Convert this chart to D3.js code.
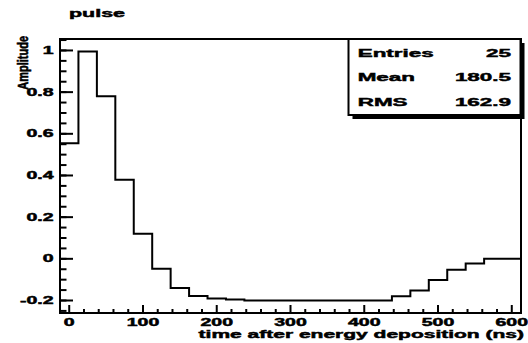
<!DOCTYPE html>
<html>
<head>
<meta charset="utf-8">
<script src="https://cdn.jsdelivr.net/npm/d3@7"></script>
<style>
  body { margin: 0; background: #fff; }
  svg { display: block; }
  text { font-family: "Liberation Sans", Arial, Helvetica, sans-serif; font-weight: bold; fill: #000;
         stroke: #000; stroke-width: 0.45px; }
</style>
</head>
<body>
<svg id="chart" width="528" height="343"></svg>
<script>
// Histogram "pulse": 25 bins of width 25 ns, centred on 0, 25, ..., 600
const binCenters = [0, 25, 50, 75, 100, 125, 150, 175, 200, 225, 250, 275, 300,
                    325, 350, 375, 400, 425, 450, 475, 500, 525, 550, 575, 600];
const amplitude = [0.555, 0.995, 0.78, 0.38, 0.12, -0.048, -0.14, -0.178, -0.19, -0.195,
                   -0.2, -0.2, -0.2, -0.2, -0.2, -0.2, -0.2, -0.2,
                   -0.18, -0.152, -0.102, -0.052, -0.022, 0, 0];
const binWidth = 25;

const xMajorTicks = [0, 100, 200, 300, 400, 500, 600];
const xMinorTicks = d3.range(0, 601, 20);
const yMajorTicks = [-0.2, 0, 0.2, 0.4, 0.6, 0.8, 1];
const yTickLabels = ["-0.2", "0", "0.2", "0.4", "0.6", "0.8", "1"];
const yMinorTicks = d3.range(-0.25, 1.051, 0.05);

const titleText = "pulse";
const xTitle = "time after energy deposition (ns)";
const yTitle = "Amplitude";
const statsLabels = ["Entries", "Mean", "RMS"];
const statsValues = ["25", "180.5", "162.9"];

// Frame geometry
const frame = { left: 60, right: 521, top: 39, bottom: 313 };
const SX = 1.95; // horizontal text stretch

const svg = d3.select("#chart");

const x = d3.scaleLinear()
  .domain([binCenters[0] - binWidth / 2, binCenters[binCenters.length - 1] + binWidth / 2])
  .range([frame.left, frame.right]);
const y = d3.scaleLinear()
  .domain([-0.26, 1.055])
  .range([frame.bottom, frame.top]);

function label(str, tx, ty, anchor, size, sx) {
  return svg.append("text")
    .attr("transform", `translate(${tx},${ty}) scale(${sx},1)`)
    .attr("text-anchor", anchor)
    .style("font-size", size + "px")
    .text(str);
}

// Histogram outline (steps)
const pts = [];
binCenters.forEach((c, i) => {
  pts.push([c - binWidth / 2, amplitude[i]]);
  pts.push([c + binWidth / 2, amplitude[i]]);
});
svg.append("path")
  .datum(pts)
  .attr("fill", "none")
  .attr("stroke", "#000")
  .attr("stroke-width", 2)
  .attr("d", d3.line().x(d => x(d[0])).y(d => y(d[1])));

// Ticks (inward)
const ticks = svg.append("g").attr("stroke", "#000").attr("stroke-width", 2);
xMinorTicks.filter(v => xMajorTicks.indexOf(v) < 0).forEach(v => {
  ticks.append("line").attr("x1", x(v)).attr("x2", x(v))
    .attr("y1", frame.bottom).attr("y2", frame.bottom - 4);
});
xMajorTicks.forEach(v => {
  ticks.append("line").attr("x1", x(v)).attr("x2", x(v))
    .attr("y1", frame.bottom).attr("y2", frame.bottom - 8);
});
yMinorTicks.forEach(v => {
  const yy = y(v);
  if (yy < frame.top + 1 || yy > frame.bottom - 1) return;
  ticks.append("line").attr("x1", frame.left).attr("x2", frame.left + 6.5)
    .attr("y1", yy).attr("y2", yy);
});
yMajorTicks.forEach(v => {
  ticks.append("line").attr("x1", frame.left).attr("x2", frame.left + 13)
    .attr("y1", y(v)).attr("y2", y(v));
});

// Frame
svg.append("rect")
  .attr("x", frame.left).attr("y", frame.top)
  .attr("width", frame.right - frame.left).attr("height", frame.bottom - frame.top)
  .attr("fill", "none").attr("stroke", "#000").attr("stroke-width", 2);

// Tick labels
xMajorTicks.forEach(v => label(String(v), x(v), 325.5, "middle", 10, SX));
yMajorTicks.forEach((v, i) => label(yTickLabels[i], 53.5, y(v) + 3.6, "end", 10, SX));

// Titles
label(titleText, 69, 16.7, "start", 11, SX);
label(xTitle, 524, 338.3, "end", 10.5, 2.0);
svg.append("text")
  .attr("transform", `translate(28,36) scale(1.4,1) rotate(-90)`)
  .attr("text-anchor", "end")
  .style("font-size", "11px")
  .text(yTitle);

// Statistics box with shadow
const box = { x: 348.5, y: 39, w: 172, h: 76 };
svg.append("rect")
  .attr("x", box.x + 4).attr("y", box.y + 4)
  .attr("width", box.w).attr("height", box.h)
  .attr("fill", "#000");
svg.append("rect")
  .attr("x", box.x).attr("y", box.y)
  .attr("width", box.w).attr("height", box.h)
  .attr("fill", "#fff").attr("stroke", "#000").attr("stroke-width", 2);
statsLabels.forEach((s, i) => {
  const by = 56.7 + i * 24.65;
  label(s, 357.7, by, "start", 11.5, SX);
  label(statsValues[i], 511, by, "end", 11.5, SX);
});
</script>
</body>
</html>
